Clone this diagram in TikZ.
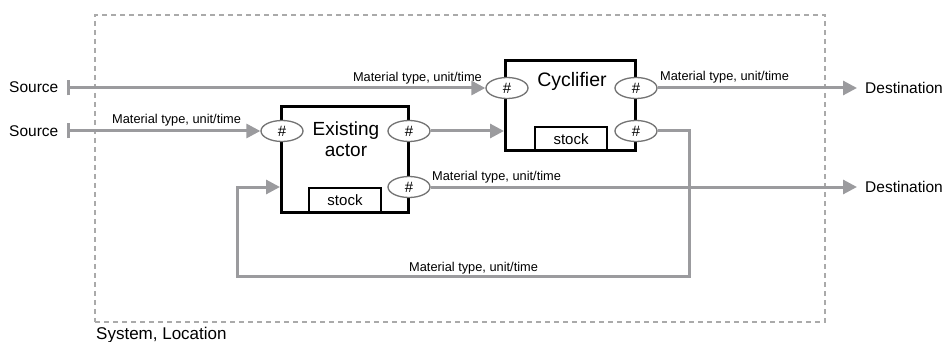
\documentclass[tikz,border=0pt]{standalone}
\usepackage{fontspec}
\setmainfont{Liberation Sans}
\usetikzlibrary{arrows.meta,shapes.geometric}
\definecolor{flowgray}{RGB}{155,155,158}
\definecolor{portgray}{RGB}{115,115,115}
\definecolor{sysgray}{RGB}{170,170,170}
\begin{document}
\begin{tikzpicture}[x=1pt,y=-1pt,
 flow/.style={draw=flowgray,line width=3pt,-{Triangle[length=14pt,width=14pt]}},
 srcflow/.style={draw=flowgray,line width=3pt,{Bar[width=15pt,line width=2.5pt]}-{Triangle[length=14pt,width=14pt]}},
 port/.style={ellipse,draw=portgray,line width=1.3pt,fill=white,minimum width=42pt,minimum height=21pt,inner sep=0pt,font=\fontsize{15}{15}\selectfont},
 actorbox/.style={draw=black,line width=3pt,fill=white,inner sep=0pt},
 stockbox/.style={draw=black,line width=1.5pt,inner sep=0pt,font=\fontsize{15}{15}\selectfont},
 lbl/.style={font=\fontsize{12.8}{14}\selectfont,inner sep=0pt},
 endtext/.style={font=\fontsize{15.5}{17}\selectfont,inner sep=0pt},
 systembox/.style={draw=sysgray,line width=1.5pt,dash pattern=on 5pt off 4pt,inner sep=0pt},
]
\useasboundingbox (0,0) rectangle (945,342);

% system boundary
\node[systembox,minimum width=730pt,minimum height=307pt] (sys) at (460,168.5) {};
\node[anchor=base west,inner sep=0pt,font=\fontsize{17}{19}\selectfont] (syslbl) at (96,339) {System, Location};

% actors
\node[actorbox,minimum width=127pt,minimum height=105pt] (act) at (345,159.5) {};
\node[actorbox,minimum width=130pt,minimum height=90pt] (cyc) at (570.5,105.5) {};
\node[stockbox,minimum width=72pt,minimum height=24pt] (astock) at (345,200) {stock};
\node[stockbox,minimum width=72pt,minimum height=23.5pt] (cstock) at (571,138.75) {stock};
\node[align=center,inner sep=0pt,font=\fontsize{19}{21}\selectfont] (actlbl) at (346,139) {Existing\\actor};
\node[anchor=base,inner sep=0pt,font=\fontsize{19.5}{21}\selectfont] (cyclbl) at (572,87) {Cyclifier};

% ports
\node[port] (ein) at (282,131) {\#};
\node[port] (eo1) at (409,131) {\#};
\node[port] (eo2) at (409,187) {\#};
\node[port] (cin) at (507,88) {\#};
\node[port] (co1) at (636,88) {\#};
\node[port] (co2) at (636,131) {\#};

% sources and destinations
\coordinate (src1) at (67,88);
\coordinate (src2) at (67,131);
\coordinate (dst1) at (857,88);
\coordinate (dst2) at (857,187);
\coordinate (fbR) at (689,276);
\coordinate (fbL) at (237,276);
\node[endtext,anchor=base west] (s1lbl) at (9,93) {Source};
\node[endtext,anchor=base west] (s2lbl) at (9,136) {Source};
\node[endtext,anchor=base west] (d1lbl) at (865,93.5) {Destination};
\node[endtext,anchor=base west] (d2lbl) at (865,192.5) {Destination};

% flows
\draw[srcflow] (src1) -- (cin);
\draw[srcflow] (src2) -- (ein);
\draw[flow] (eo1) -- (eo1 -| cyc.west);
\draw[flow] (co1) -- (dst1);
\draw[flow] (eo2) -- (dst2);
\draw[flow] (co2.east) -| (fbR) -- (fbL) |- (act.west |- eo2);

% flow labels
\node[lbl,anchor=base east] (l1) at (482,82) {Material type, unit/time};
\node[lbl,anchor=base west] (l2) at (112,124) {Material type, unit/time};
\node[lbl,anchor=base west] (l3) at (660,81) {Material type, unit/time};
\node[lbl,anchor=base west] (l4) at (432,180) {Material type, unit/time};
\node[lbl,anchor=base west] (l5) at (409,271) {Material type, unit/time};
\end{tikzpicture}
\end{document}
